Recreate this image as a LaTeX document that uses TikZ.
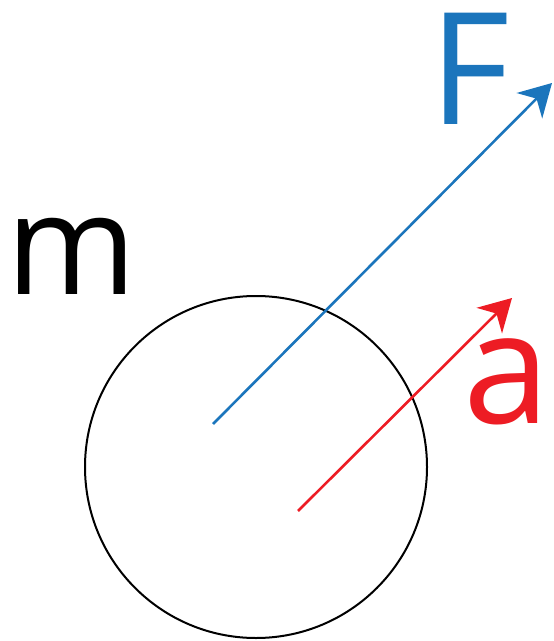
\documentclass[tikz,border=0pt]{standalone}
\usepackage{fontspec}
\setmainfont{Open Sans}
\usetikzlibrary{arrows.meta}
\definecolor{forceblue}{HTML}{1B75BC}
\definecolor{accred}{HTML}{ED1C24}

\begin{document}
\begin{tikzpicture}[
  x=0.5pt, y=-0.5pt,
  body/.style={
    draw=black,
    circle,
    line width=1pt,
    minimum size=171pt,
    inner sep=0pt
  },
  letter/.style={
    inner sep=0pt,
    font=\fontsize{78}{78}\selectfont
  },
  vec/.style={-{Stealth[length=16pt, width=18pt, inset=5pt]}, line width=1.3pt}
]
  \useasboundingbox (0,0) rectangle (553,641);

  \node[body] (mass) at (256,467) {};
  \node[letter, font=\fontsize{70}{70}\selectfont] (mlabel) at (72,256.5) {m};

  \coordinate (Ftail) at (213,424);
  \coordinate (Ftip) at (552,83);
  \draw[vec, draw=forceblue, fill=forceblue] (Ftail) -- (Ftip);
  \node[letter, text=forceblue] (Flabel) at (470,68.5) {F};

  \coordinate (atail) at (298,511);
  \coordinate (atip) at (512,298);
  \draw[vec, draw=accred, fill=accred] (atail) -- (atip);
  \node[letter, text=accred] (alabel) at (506.5,381.5) {a};
\end{tikzpicture}
\end{document}
